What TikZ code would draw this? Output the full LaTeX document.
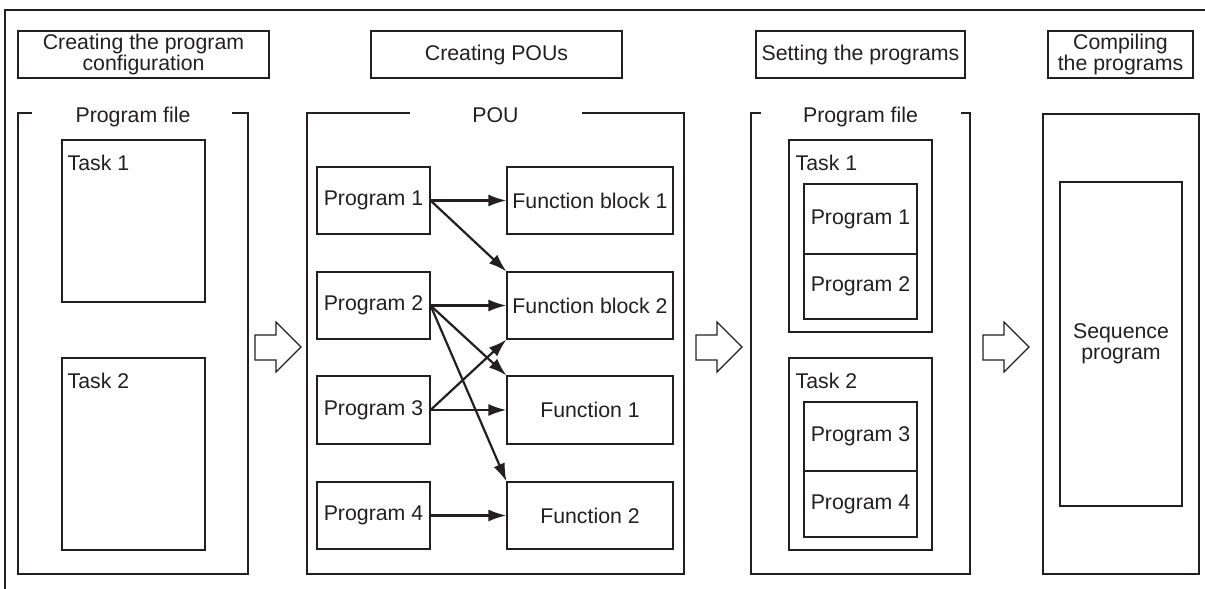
\documentclass[tikz,border=0pt]{standalone}
\usepackage{fontspec}
\setmainfont{Liberation Sans}
\usetikzlibrary{arrows.meta}
\definecolor{ink}{HTML}{231F20}
\tikzset{
  frame/.style={draw=ink, line width=1.1pt},
  box/.style={frame, rectangle, inner sep=0pt, align=center, text=ink},
  lbl/.style={inner sep=0pt, text=ink, anchor=base},
  flow/.style={draw=ink, line width=2.2pt, -{Latex[length=18pt,width=12pt]}},
  pics/hollowarrow/.style={code={
    \draw[frame, line join=miter] (0,13) -- (0,-12) -- (21,-12) -- (21,-25) -- (46,0)
      -- (21,25) -- (21,13) -- cycle;
  }}
}
\begin{document}
\begin{tikzpicture}[x=1pt, y=-1pt, font=\fontsize{21.3}{20.5}\selectfont]
\useasboundingbox (0,0) rectangle (1205,589);

% outer frame (top and left edges only)
\draw[draw=ink, line width=2.3pt] (5,600) -- (5,10) -- (1215,10);

% step headers
\node[box, minimum width=251pt, minimum height=47pt] (hdr1) at (143.5,54.5) {Creating the program\\configuration};
\node[box, minimum width=251pt, minimum height=47pt] (hdr2) at (496.5,54.5) {Creating POUs};
\node[box, minimum width=209pt, minimum height=47pt] (hdr3) at (860.5,54.5) {Setting the programs};
\node[box, minimum width=145pt, minimum height=47pt] (hdr4) at (1120.5,54.5) {Compiling\\the programs};

% ---------- program configuration ----------
\draw[frame] (32,113) -- (18,113) -- (18,574) -- (248,574) -- (248,113) -- (232,113);
\node[lbl] (pf1) at (133,122) {Program file};
\node[box, minimum width=143pt, minimum height=162pt] (cfgTask1) at (133.5,221) {};
\node[box, minimum width=143pt, minimum height=192pt] (cfgTask2) at (133.5,454) {};
\node[lbl, anchor=base west] (cfgT1) at ([xshift=6pt,yshift=-31pt]cfgTask1.north west) {Task 1};
\node[lbl, anchor=base west] (cfgT2) at ([xshift=6pt,yshift=-31pt]cfgTask2.north west) {Task 2};

\pic at (255,347) {hollowarrow};

% ---------- POUs ----------
\draw[frame] (410,113) -- (307,113) -- (307,574) -- (684,574) -- (684,113) -- (582,113);
\node[lbl] (pou) at (495.5,122) {POU};

\node[box, minimum width=113pt, minimum height=67pt] (prg1) at (373.5,200.5) {Program 1};
\node[box, minimum width=113pt, minimum height=67pt] (prg2) at (373.5,305.5) {Program 2};
\node[box, minimum width=113pt, minimum height=68pt] (prg3) at (373.5,410) {Program 3};
\node[box, minimum width=113pt, minimum height=67pt] (prg4) at (373.5,515.5) {Program 4};

\node[box, minimum width=166pt, minimum height=67pt] (fb1) at (590,200.5) {Function block 1};
\node[box, minimum width=166pt, minimum height=67pt] (fb2) at (590,305.5) {Function block 2};
\node[box, minimum width=166pt, minimum height=68pt] (fn1) at (590,410) {Function 1};
\node[box, minimum width=166pt, minimum height=67pt] (fn2) at (590,515.5) {Function 2};

\draw[flow] (prg1.east) -- (fb1.west);
\draw[flow] (prg1.east) -- (fb2.north west);
\draw[flow] (prg2.east) -- (fb2.west);
\draw[flow] (prg2.east) -- (fn1.north west);
\draw[flow] (prg2.east) -- (fn2.north west);
\draw[flow] (prg3.east) -- (fn1.west);
\draw[flow] (prg3.east) -- (fb2.south west);
\draw[flow] (prg4.east) -- (fn2.west);

\pic at (696,347) {hollowarrow};

% ---------- program settings ----------
\draw[frame] (761,113) -- (751,113) -- (751,574) -- (970,574) -- (970,113) -- (961,113);
\node[lbl] (pf2) at (860.5,122) {Program file};
\node[box, minimum width=143pt, minimum height=192pt] (setTask1) at (860.5,236) {};
\node[box, minimum width=143pt, minimum height=192pt] (setTask2) at (860.5,454) {};
\node[lbl, anchor=base west] (setT1) at ([xshift=7pt,yshift=-31pt]setTask1.north west) {Task 1};
\node[lbl, anchor=base west] (setT2) at ([xshift=7pt,yshift=-31pt]setTask2.north west) {Task 2};
\node[box, minimum width=113pt, minimum height=70pt] (setP1) at (860.5,219) {Program 1};
\node[box, minimum width=113pt, minimum height=65pt] (setP2) at (860.5,286.5) {Program 2};
\node[box, minimum width=113pt, minimum height=69pt] (setP3) at (860.5,436.5) {Program 3};
\node[box, minimum width=113pt, minimum height=66pt] (setP4) at (860.5,504) {Program 4};

\pic at (983,347) {hollowarrow};

% ---------- compilation ----------
\node[box, minimum width=156pt, minimum height=460pt] (cmp) at (1121,344) {};
\node[box, minimum width=122pt, minimum height=324pt] (seq) at (1121,344) {Sequence\\program};
\end{tikzpicture}
\end{document}
